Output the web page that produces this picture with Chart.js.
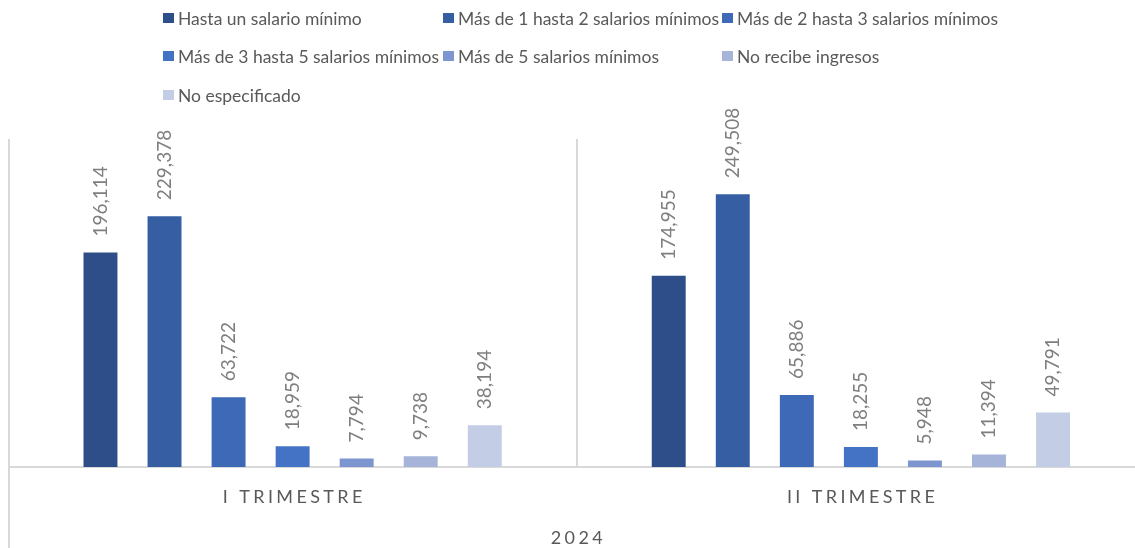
<!DOCTYPE html>
<html lang="es">
<head>
<meta charset="utf-8">
<title>Ingresos por trimestre 2024</title>
<script src="https://cdn.jsdelivr.net/npm/chart.js@4.4.1/dist/chart.umd.min.js"></script>
<style>
  html, body { margin: 0; padding: 0; background: #fff; overflow: hidden; }
  #contenedor { position: relative; width: 1145px; height: 548px; }
  #grafica { position: absolute; left: 0; top: 0; }
  #leyenda { position: absolute; left: 0; top: 0; font-family: Lato, sans-serif; font-size: 17.5px; color: #595959; }
  #leyenda .item { position: absolute; height: 20px; display: flex; align-items: center; white-space: nowrap; }
  #leyenda .caja { width: 11px; height: 10px; margin-right: 4px; }
</style>
</head>
<body>
<div id="contenedor">
  <canvas id="grafica" width="1145" height="548"></canvas>
  <div id="leyenda"></div>
</div>
<script>
// ==================== DATOS ====================

const trimestres = ['I TRIMESTRE', 'II TRIMESTRE'];
const anio = '2024';

const nombresSeries = [
  'Hasta un salario mínimo',
  'Más de 1 hasta 2 salarios mínimos',
  'Más de 2 hasta 3 salarios mínimos',
  'Más de 3 hasta 5 salarios mínimos',
  'Más de 5 salarios mínimos',
  'No recibe ingresos',
  'No especificado'
];

const hastaUnSalario = [196114, 174955];
const de1a2Salarios = [229378, 249508];
const de2a3Salarios = [63722, 65886];
const de3a5Salarios = [18959, 18255];
const masDe5Salarios = [7794, 5948];
const noRecibe = [9738, 11394];
const noEspecificado = [38194, 49791];

const colores = ['#2e4e89', '#365ea3', '#3d69b7', '#4472c4', '#7e96cf', '#a6b4da', '#c4cde6'];

// ==================== UTILIDADES ====================

// espaciado entre letras (como en el eje original)
function espaciar(texto) {
  return texto.split('').join('\u2009\u200A');
}

// ==================== PLUGINS ====================

// etiquetas de datos verticales encima de cada barra
const etiquetasDatos = {
  id: 'etiquetasDatos',
  afterDatasetsDraw(chart) {
    const ctx = chart.ctx;
    ctx.save();
    ctx.font = '19px Lato';
    ctx.fillStyle = '#7f7f7f';
    ctx.textAlign = 'left';
    ctx.textBaseline = 'middle';
    chart.data.datasets.forEach((ds, i) => {
      chart.getDatasetMeta(i).data.forEach((barra, j) => {
        ctx.save();
        ctx.translate(barra.x, barra.y - 16);
        ctx.rotate(-Math.PI / 2);
        ctx.fillText(ds.data[j].toLocaleString('en-US'), 0, 0);
        ctx.restore();
      });
    });
    ctx.restore();
  }
};

// leyenda HTML en columnas (como la de Excel)
const columnasLeyenda = [163, 443, 722];
const filasLeyenda = [18, 56, 95];

const leyendaHTML = {
  id: 'leyendaHTML',
  afterUpdate(chart) {
    const cont = document.getElementById('leyenda');
    cont.innerHTML = '';
    const items = chart.options.plugins.legend.labels.generateLabels(chart);
    items.forEach((item, i) => {
      const div = document.createElement('div');
      div.className = 'item';
      div.style.left = columnasLeyenda[i % 3] + 'px';
      div.style.top = (filasLeyenda[Math.floor(i / 3)] - 10) + 'px';
      const caja = document.createElement('span');
      caja.className = 'caja';
      caja.style.background = item.fillStyle;
      const texto = document.createElement('span');
      texto.textContent = item.text;
      div.appendChild(caja);
      div.appendChild(texto);
      cont.appendChild(div);
    });
  }
};

// ==================== GRAFICA ====================

const valores = [hastaUnSalario, de1a2Salarios, de2a3Salarios, de3a5Salarios, masDe5Salarios, noRecibe, noEspecificado];

new Chart(document.getElementById('grafica'), {
  type: 'bar',
  data: {
    labels: trimestres,
    datasets: nombresSeries.map((nombre, i) => ({
      label: nombre,
      data: valores[i],
      backgroundColor: colores[i],
      borderWidth: 0,
      categoryPercentage: 0.789,
      barPercentage: 0.53
    }))
  },
  options: {
    responsive: false,
    animation: false,
    layout: { padding: { top: 139, left: 8.5, right: 0, bottom: 0 } },
    plugins: {
      legend: { display: false },
      tooltip: { enabled: false }
    },
    scales: {
      y: {
        display: false,
        min: 0,
        max: 300000
      },
      x: {
        grid: {
          color: '#d9d9d9',
          lineWidth: 2,
          tickLength: 81,
          tickColor: ctx => ctx.index === 0 ? '#d9d9d9' : 'rgba(0,0,0,0)'
        },
        border: { color: '#d9d9d9', width: 2 },
        ticks: {
          font: { family: 'Lato', size: 18 },
          color: '#595959',
          padding: -62,
          maxRotation: 0,
          callback: function (valor) {
            return espaciar(this.getLabelForValue(valor));
          }
        },
        title: {
          display: true,
          text: espaciar(anio),
          font: { family: 'Lato', size: 18 },
          color: '#595959',
          padding: { top: 0, bottom: -1 }
        },
        afterFit: scale => { scale.height = 81; }
      }
    }
  },
  plugins: [etiquetasDatos, leyendaHTML]
});
</script>
</body>
</html>
